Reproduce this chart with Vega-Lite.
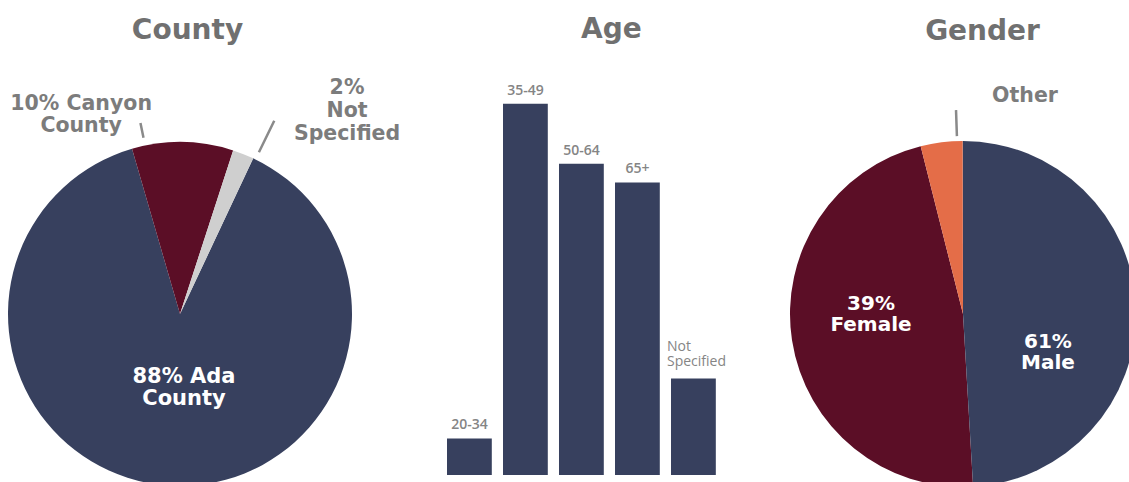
{
  "$schema": "https://vega.github.io/schema/vega-lite/v6.json",
  "background": "white",
  "padding": {"left": 0, "right": 0, "top": 15, "bottom": 0},
  "spacing": 81.4,
  "bounds": "flush",
  "resolve": {"scale": {"color": "independent", "theta": "independent"}},
  "config": {
    "view": {"stroke": null},
    "title": {"font": "DejaVu Sans", "fontSize": 28, "fontWeight": "bold", "color": "#707070", "anchor": "middle", "frame": "group", "baseline": "alphabetic"}
  },
  "hconcat": [
    {
      "width": 360,
      "height": 322,
      "title": {"text": "County", "dx": 7.5, "offset": 18},
      "data": {"values": [
        {"part": "Ada County", "share": 88.5, "label": "88% Ada\nCounty"},
        {"part": "Canyon County", "share": 9.5, "label": "10% Canyon\nCounty"},
        {"part": "Not Specified", "share": 2, "label": "2%\nNot\nSpecified"}
      ]},
      "layer": [
        {
          "mark": {"type": "arc", "radius": 172},
          "encoding": {
            "theta": {"field": "share", "type": "quantitative", "stack": true, "scale": {"range": [0.43982, 6.72301]}},
            "order": {"field": "part", "type": "ordinal", "sort": "ascending"},
            "color": {"field": "part", "type": "nominal", "legend": null, "scale": {"domain": ["Ada County", "Canyon County", "Not Specified"], "range": ["#37405e", "#5b0e26", "#cfcfcf"]}}
          }
        },
        {
          "mark": {"type": "text", "radius": 74.2, "dx": 9.8, "dy": -11, "color": "white", "font": "DejaVu Sans", "fontSize": 21, "fontWeight": "bold", "lineBreak": "\n", "lineHeight": 22, "baseline": "middle", "align": "center"},
          "encoding": {
            "theta": {"field": "share", "type": "quantitative", "stack": true, "scale": {"range": [0.43982, 6.72301]}},
            "order": {"field": "part", "type": "ordinal", "sort": "ascending"},
            "detail": {"field": "part", "type": "nominal"},
            "text": {"condition": {"test": "datum.part === 'Ada County'", "field": "label"}, "value": ""}
          }
        },
        {
          "mark": {"type": "text", "radius": 199, "dx": -102, "dy": -11, "color": "#7c7c7c", "font": "DejaVu Sans", "fontSize": 20.5, "fontWeight": "bold", "lineBreak": "\n", "lineHeight": 22, "baseline": "middle", "align": "center"},
          "encoding": {
            "theta": {"field": "share", "type": "quantitative", "stack": true, "scale": {"range": [0.43982, 6.72301]}},
            "order": {"field": "part", "type": "ordinal", "sort": "ascending"},
            "detail": {"field": "part", "type": "nominal"},
            "text": {"condition": {"test": "datum.part === 'Canyon County'", "field": "label"}, "value": ""}
          }
        },
        {
          "mark": {"type": "text", "radius": 219, "dx": 86.4, "dy": -22, "color": "#7c7c7c", "font": "DejaVu Sans", "fontSize": 20.5, "fontWeight": "bold", "lineBreak": "\n", "lineHeight": 23, "baseline": "middle", "align": "center"},
          "encoding": {
            "theta": {"field": "share", "type": "quantitative", "stack": true, "scale": {"range": [0.43982, 6.72301]}},
            "order": {"field": "part", "type": "ordinal", "sort": "ascending"},
            "detail": {"field": "part", "type": "nominal"},
            "text": {"condition": {"test": "datum.part === 'Not Specified'", "field": "label"}, "value": ""}
          }
        },
        {
          "transform": [
            {"stack": "share", "groupby": [], "sort": [{"field": "part", "order": "ascending"}], "as": ["t0", "t1"]},
            {"filter": "datum.part === 'Canyon County'"}
          ],
          "mark": {"type": "arc", "radius": 195, "radius2": 180, "fillOpacity": 0, "stroke": "#8a8a8a", "strokeWidth": 2.5},
          "encoding": {
            "theta": {"field": "t0", "type": "quantitative", "scale": {"domain": [0, 100], "range": [0.51836, 6.80155]}},
            "theta2": {"field": "t0"}
          }
        },
        {
          "transform": [
            {"stack": "share", "groupby": [], "sort": [{"field": "part", "order": "ascending"}], "as": ["t0", "t1"]},
            {"filter": "datum.part === 'Not Specified'"}
          ],
          "mark": {"type": "arc", "radius": 215, "radius2": 180, "fillOpacity": 0, "stroke": "#8a8a8a", "strokeWidth": 2.5},
          "encoding": {
            "theta": {"field": "t1", "type": "quantitative", "scale": {"domain": [0, 100], "range": [0.45379, 6.73698]}},
            "theta2": {"field": "t1"}
          }
        }
      ],
      "resolve": {"scale": {"theta": "independent"}}
    },
    {
      "width": 280,
      "height": 322,
      "title": {"text": "Age", "dx": 30, "offset": 40},
      "data": {"values": [
        {"age": "20-34", "share": 3.3},
        {"age": "35-49", "share": 33.5},
        {"age": "50-64", "share": 28.1},
        {"age": "65+", "share": 26.4},
        {"age": "Not Specified", "share": 8.7}
      ]},
      "encoding": {
        "x": {"field": "age", "type": "nominal", "sort": null, "axis": null, "scale": {"domain": ["20-34", "35-49", "50-64", "65+", "Not Specified"], "paddingInner": 0.2, "paddingOuter": 0.1}},
        "y": {"field": "share", "type": "quantitative", "axis": null, "scale": {"domain": [0, 29.06], "nice": false}}
      },
      "layer": [
        {"mark": {"type": "bar", "color": "#37405e"}},
        {
          "transform": [{"filter": "datum.age !== 'Not Specified'"}],
          "mark": {"type": "text", "baseline": "bottom", "dy": -6, "font": "Open Sans", "fontSize": 14, "fontWeight": 600, "color": "#858585"},
          "encoding": {"text": {"field": "age"}}
        },
        {
          "transform": [{"filter": "datum.age === 'Not Specified'"}],
          "mark": {"type": "text", "align": "left", "baseline": "bottom", "dy": -24.5, "dx": -4, "lineBreak": " ", "lineHeight": 14.5, "font": "Open Sans", "fontSize": 14, "color": "#858585"},
          "encoding": {
            "x": {"field": "age", "type": "nominal", "bandPosition": 0},
            "text": {"field": "age"}
          }
        }
      ]
    },
    {
      "width": 320.4,
      "height": 322,
      "title": {"text": "Gender", "dx": 19.5, "offset": 40},
      "data": {"values": [
        {"part": "Female", "share": 47.0, "label": "39%\nFemale"},
        {"part": "Male", "share": 49.1, "label": "61%\nMale"},
        {"part": "Other", "share": 3.9, "label": "Other"}
      ]},
      "layer": [
        {
          "mark": {"type": "arc", "radius": 173},
          "encoding": {
            "theta": {"field": "share", "type": "quantitative", "stack": true, "scale": {"range": [-0.24714, 6.03605]}},
            "order": {"field": "part", "type": "ordinal", "sort": "descending"},
            "color": {"field": "part", "type": "nominal", "legend": null, "scale": {"domain": ["Female", "Male", "Other"], "range": ["#5b0e26", "#37405e", "#e46d48"]}}
          }
        },
        {
          "mark": {"type": "text", "radius": 93.1, "dy": -24.5, "color": "white", "font": "DejaVu Sans", "fontSize": 20, "fontWeight": "bold", "lineBreak": "\n", "lineHeight": 21, "baseline": "middle", "align": "center"},
          "encoding": {
            "theta": {"field": "share", "type": "quantitative", "stack": true, "scale": {"range": [-0.24714, 6.03605]}},
            "order": {"field": "part", "type": "ordinal", "sort": "descending"},
            "detail": {"field": "part", "type": "nominal"},
            "text": {"condition": {"test": "datum.part === 'Female'", "field": "label"}, "value": ""}
          }
        },
        {
          "mark": {"type": "text", "radius": 85, "dy": 30.8, "color": "white", "font": "DejaVu Sans", "fontSize": 20, "fontWeight": "bold", "lineBreak": "\n", "lineHeight": 21, "baseline": "middle", "align": "center"},
          "encoding": {
            "theta": {"field": "share", "type": "quantitative", "stack": true, "scale": {"range": [-0.24714, 6.03605]}},
            "order": {"field": "part", "type": "ordinal", "sort": "descending"},
            "detail": {"field": "part", "type": "nominal"},
            "text": {"condition": {"test": "datum.part === 'Male'", "field": "label"}, "value": ""}
          }
        },
        {
          "mark": {"type": "text", "radius": 219.7, "dx": 89.3, "color": "#7c7c7c", "font": "DejaVu Sans", "fontSize": 20.5, "fontWeight": "bold", "baseline": "middle", "align": "center"},
          "encoding": {
            "theta": {"field": "share", "type": "quantitative", "stack": true, "scale": {"range": [-0.24714, 6.03605]}},
            "order": {"field": "part", "type": "ordinal", "sort": "descending"},
            "detail": {"field": "part", "type": "nominal"},
            "text": {"condition": {"test": "datum.part === 'Other'", "field": "label"}, "value": ""}
          }
        },
        {
          "transform": [
            {"stack": "share", "groupby": [], "sort": [{"field": "part", "order": "descending"}], "as": ["t0", "t1"]},
            {"filter": "datum.part === 'Other'"}
          ],
          "mark": {"type": "arc", "radius": 204, "radius2": 178, "fillOpacity": 0, "stroke": "#8a8a8a", "strokeWidth": 2.5},
          "encoding": {
            "theta": {"field": "t1", "type": "quantitative", "scale": {"domain": [0, 100], "range": [-0.27925, 6.00394]}},
            "theta2": {"field": "t1"}
          }
        }
      ],
      "resolve": {"scale": {"theta": "independent"}}
    }
  ]
}
